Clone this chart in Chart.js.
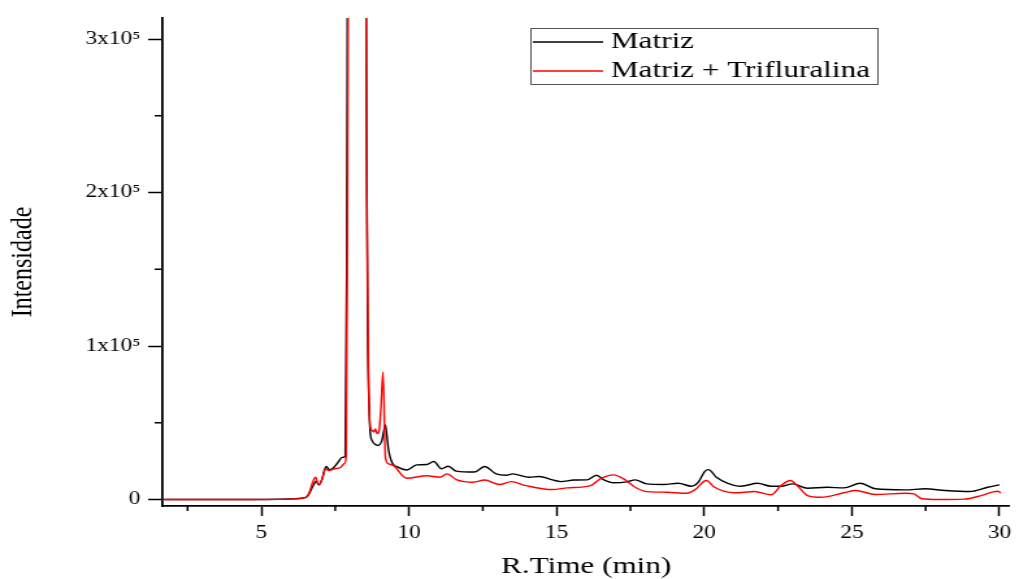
<!DOCTYPE html>
<html>
<head>
<meta charset="utf-8">
<script src="https://cdn.jsdelivr.net/npm/chart.js@4.4.1/dist/chart.umd.min.js"></script>
<style>
  html, body { margin: 0; padding: 0; background: #fff; }
  canvas { display: block; }
</style>
</head>
<body>
<!-- drawn 784 wide and stretched to 1019 so the text gets the same wide look as the original export -->
<canvas id="chart" width="784" height="579" style="width:1019px;height:579px"></canvas>
<script>
// Matriz (black)
const matrizTime = [1.7, 4.0, 6.0, 6.4, 6.55, 6.65, 6.78, 6.85, 6.95, 7.05, 7.15, 7.2, 7.3, 7.4, 7.57, 7.74, 7.84,
  7.89, 7.95, 8.2, 8.5, 8.56, 8.6, 8.65, 8.69, 8.75, 8.85, 8.95, 9.08, 9.2, 9.26, 9.31, 9.42, 9.64, 9.92,
  10.26, 10.6, 10.84, 11.1, 11.33, 11.6, 12.22, 12.56, 12.95, 13.29, 13.51, 14.07, 14.41, 14.86, 15.14,
  15.59, 16.04, 16.35, 16.6, 16.93, 17.38, 17.66, 18.05, 18.62, 19.12, 19.57, 19.8, 20.02, 20.15, 20.41,
  20.8, 21.25, 21.81, 22.26, 22.6, 22.99, 23.5, 24.17, 24.73, 25.29, 25.8, 26.8, 27.48, 28.15, 28.99, 29.6, 30.0];
const matrizIntensity = [0, 0, 400, 1000, 2000, 5000, 10000, 12000, 9500, 13000, 20000, 21500, 19500, 20000, 23600, 27500, 28000,
  150000, 600000, 1200000, 600000, 250000, 110000, 60000, 43000, 38400, 36000, 35200, 38400, 48600, 40000, 31900, 24300, 21000, 19300,
  22600, 22800, 24800, 20000, 21700, 18500, 17900, 21500, 16700, 15800, 16700, 14500, 15000, 12800, 11700,
  12700, 12800, 15800, 12800, 10900, 11500, 12800, 10200, 9800, 10600, 8700, 11300, 18400, 19500, 14500,
  10600, 8700, 10600, 8700, 8700, 10200, 7400, 8000, 7600, 10600, 7000, 6300, 7000, 5900, 5200, 8000, 9600];

// Matriz + Trifluralina (red)
const trifTime = [1.7, 4.0, 6.0, 6.4, 6.55, 6.65, 6.75, 6.84, 6.9, 6.97, 7.05, 7.18, 7.29, 7.46, 7.68, 7.82, 7.87,
  7.92, 7.98, 8.2, 8.5, 8.57, 8.63, 8.69, 8.75, 8.81, 8.86, 8.92, 8.98, 9.05, 9.12, 9.2, 9.31, 9.48, 9.92,
  10.6, 11.05, 11.29, 11.6, 12.17, 12.56, 13.07, 13.46, 13.96, 14.86, 15.36, 16.15, 16.48, 16.93, 17.27,
  17.66, 18.05, 18.73, 19.4, 19.68, 20.07, 20.35, 21.02, 21.7, 22.26, 22.6, 22.92, 23.17, 23.5, 23.95,
  24.73, 25.12, 25.8, 26.8, 27.1, 27.37, 27.93, 28.82, 29.38, 29.94, 30.05];
const trifIntensity = [0, 0, 300, 800, 2000, 6000, 12000, 14500, 11000, 10000, 13000, 20000, 18900, 20000, 20900, 23600, 28000,
  200000, 600000, 1200000, 600000, 200000, 80000, 47000, 45000, 44000, 46000, 43000, 44000, 60000, 83000, 27600, 23200, 22100, 13900,
  15500, 14500, 16700, 13000, 11300, 12700, 9800, 11700, 9100, 6500, 7600, 9100, 13500, 16100, 13500,
  8000, 5200, 4800, 4100, 6300, 12400, 8000, 4400, 5200, 3100, 9100, 12400, 8700, 2600, 1500,
  4400, 5900, 3300, 4100, 3700, 500, 0, 300, 2600, 5400, 4400];

const seriesLabels = ['Matriz', 'Matriz + Trifluralina'];
const xMajorTicks = [5, 10, 15, 20, 25, 30];
const xMinorTicks = [2.5, 7.5, 12.5, 17.5, 22.5, 27.5];
const yMajorTicks = [0, 100000, 200000, 300000];
const yMinorTicks = [50000, 150000, 250000];

const SERIF = '"Liberation Serif", "Times New Roman", serif';

function toPoints(xs, ys) {
    return xs.map((x, i) => ({ x: x, y: ys[i] }));
}

function yLabel(value) {
    if (value === 0) return '0';
    return (value / 100000) + 'x10\u2075';
}

// minor ticks and the boxed legend inside the plot
const extrasPlugin = {
    id: 'extras',
    afterDraw(chart) {
        const ctx = chart.ctx;
        const xs = chart.scales.x;
        const ys = chart.scales.y;
        ctx.save();
        ctx.strokeStyle = '#000';
        ctx.lineWidth = 1.5;
        ctx.beginPath();
        xMinorTicks.forEach(v => {
            const px = xs.getPixelForValue(v);
            ctx.moveTo(px, xs.top);
            ctx.lineTo(px, xs.top + 5);
        });
        yMinorTicks.forEach(v => {
            const py = ys.getPixelForValue(v);
            ctx.moveTo(ys.right, py);
            ctx.lineTo(ys.right - 6, py);
        });
        ctx.stroke();

        // legend box
        const bx = 408, by = 28, bw = 267, bh = 56;
        ctx.fillStyle = '#fff';
        ctx.fillRect(bx, by, bw, bh);
        ctx.strokeStyle = '#555';
        ctx.lineWidth = 1;
        ctx.strokeRect(bx + 0.5, by + 0.5, bw, bh);
        ctx.font = '24px ' + SERIF;
        ctx.textBaseline = 'middle';
        ctx.textAlign = 'left';
        const rows = [42, 71];
        chart.data.datasets.forEach((ds, i) => {
            ctx.strokeStyle = ds.borderColor;
            ctx.lineWidth = 1.5;
            ctx.beginPath();
            ctx.moveTo(410, rows[i]);
            ctx.lineTo(464, rows[i]);
            ctx.stroke();
            ctx.fillStyle = '#000';
            ctx.fillText(ds.label, 470, rows[i]);
        });
        ctx.restore();
    }
};

const ctx = document.getElementById('chart').getContext('2d');
new Chart(ctx, {
    type: 'line',
    data: {
        datasets: [{
            label: seriesLabels[0],
            data: toPoints(matrizTime, matrizIntensity),
            borderColor: '#000000',
            borderWidth: 1.4,
            pointRadius: 0,
            cubicInterpolationMode: 'monotone',
            order: 1
        }, {
            label: seriesLabels[1],
            data: toPoints(trifTime, trifIntensity),
            borderColor: '#ff0000',
            borderWidth: 1.4,
            pointRadius: 0,
            cubicInterpolationMode: 'monotone',
            order: 0
        }]
    },
    options: {
        responsive: false,
        animation: false,
        devicePixelRatio: 1,
        layout: { padding: { top: 18, right: 3, left: 0, bottom: 0 } },
        plugins: {
            legend: { display: false },
            tooltip: { enabled: false }
        },
        scales: {
            x: {
                type: 'linear',
                min: 1.65,
                max: 30.35,
                afterFit: scale => { scale.height = 73; },
                afterBuildTicks: scale => { scale.ticks = xMajorTicks.map(v => ({ value: v })); },
                border: { color: '#000', width: 1.8 },
                grid: { drawOnChartArea: false, tickLength: 10, tickColor: '#000', tickWidth: 1.5 },
                ticks: {
                    color: '#000',
                    padding: 6,
                    maxRotation: 0,
                    font: { family: SERIF, size: 18 }
                },
                title: {
                    display: true,
                    text: 'R.Time (min)',
                    color: '#000',
                    padding: { top: 0, bottom: 0 },
                    font: { family: SERIF, size: 24, lineHeight: 1 }
                }
            },
            y: {
                min: -4200,
                max: 313700,
                afterFit: scale => { scale.width = 125; },
                afterBuildTicks: scale => { scale.ticks = yMajorTicks.map(v => ({ value: v })); },
                border: { color: '#000', width: 1.8 },
                grid: { drawOnChartArea: false, tickLength: 11, tickColor: '#000', tickWidth: 1.5 },
                ticks: {
                    color: '#000',
                    padding: 6,
                    font: { family: SERIF, size: 18 },
                    callback: value => yLabel(value)
                },
                title: {
                    display: true,
                    text: 'Intensidade',
                    color: '#000',
                    padding: { top: 6, bottom: 0 },
                    font: { family: SERIF, size: 24, lineHeight: 1 }
                }
            }
        }
    },
    plugins: [extrasPlugin]
});
</script>
</body>
</html>
